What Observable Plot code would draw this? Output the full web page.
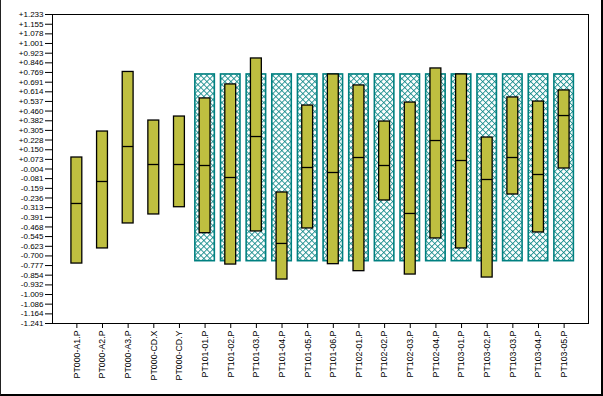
<!DOCTYPE html>
<html>
<head>
<meta charset="utf-8">
<script src="https://cdn.jsdelivr.net/npm/d3@7"></script>
<script src="https://cdn.jsdelivr.net/npm/@observablehq/plot@0.6"></script>
<style>
  html, body { margin: 0; padding: 0; background: #fff; }
  #wrap { position: relative; width: 603px; height: 396px; overflow: hidden; }
  #border { position: absolute; left: 0; top: 0; width: 603px; height: 396px; box-sizing: border-box;
            border-left: 1px solid #222; border-right: 2px solid #000; border-bottom: 2px solid #000; pointer-events: none; }
  svg { display: block; }
</style>
</head>
<body>
<div id="wrap"><div id="border"></div></div>
<script>
const categories = ["PT000-A1.P","PT000-A2.P","PT000-A3.P","PT000-CD.X","PT000-CD.Y",
  "PT101-01.P","PT101-02.P","PT101-03.P","PT101-04.P","PT101-05.P","PT101-06.P",
  "PT102-01.P","PT102-02.P","PT102-03.P","PT102-04.P",
  "PT103-01.P","PT103-02.P","PT103-03.P","PT103-04.P","PT103-05.P"];
const barHigh = [0.088, 0.296, 0.773, 0.384, 0.416,
  0.561, 0.673, 0.881, -0.192, 0.504, 0.753,
  0.665, 0.376, 0.528, 0.801,
  0.753, 0.248, 0.569, 0.536, 0.625];
const barMid = [-0.280, -0.104, 0.176, 0.032, 0.032,
  0.024, -0.072, 0.256, -0.600, 0.008, -0.032,
  0.088, 0.024, -0.360, 0.224,
  0.064, -0.088, 0.088, -0.048, 0.424];
const barLow = [-0.761, -0.640, -0.440, -0.368, -0.310,
  -0.518, -0.769, -0.504, -0.889, -0.480, -0.766,
  -0.822, -0.256, -0.849, -0.560,
  -0.640, -0.873, -0.208, -0.512, 0.000];
const limitCategories = categories.slice(5);
const limitHigh = 0.753;
const limitLow = -0.742;
const yTickLabels = ["+1.233","+1.155","+1.078","+1.001","+0.923","+0.846","+0.769","+0.691","+0.614",
  "+0.537","+0.460","+0.382","+0.305","+0.228","+0.150","+0.073","-0.004","-0.081","-0.159","-0.236",
  "-0.313","-0.391","-0.468","-0.545","-0.623","-0.700","-0.777","-0.854","-0.932","-1.009","-1.086",
  "-1.164","-1.241"];

const bars = categories.map((c, i) => ({cat: c, high: barHigh[i], mid: barMid[i], low: barLow[i]}));
const limits = limitCategories.map(c => ({cat: c, high: limitHigh, low: limitLow}));
const yTicks = yTickLabels.map(Number);

const chart = Plot.plot({
  width: 603,
  height: 396,
  marginTop: 14,
  marginLeft: 52,
  marginRight: 15,
  marginBottom: 73,
  style: {fontFamily: "'Liberation Sans', Arial, sans-serif", fontSize: "8px", color: "#000", background: "#fff"},
  x: {domain: categories, paddingInner: 0.1, paddingOuter: 0.5, round: false, label: null},
  y: {domain: [-1.241, 1.233], label: null},
  marks: [
    Plot.barY(limits, {x: "cat", y1: "low", y2: "high", fill: "url(#hatch)", stroke: "#008080", strokeWidth: 1.6, insetLeft: 1.8, insetRight: 1.8}),
    Plot.barY(bars, {x: "cat", y1: "low", y2: "high", fill: "#bfbf40", stroke: "#000", strokeWidth: 1.3, insetLeft: 6.1, insetRight: 6.1}),
    Plot.tickY(bars, {x: "cat", y: "mid", stroke: "#000", strokeWidth: 1.3, insetLeft: 6.1, insetRight: 6.1}),
    Plot.frame({stroke: "#000", strokeWidth: 1}),
    Plot.axisY({ticks: yTicks, tickFormat: (d, i) => yTickLabels[i], tickSize: 7, tickPadding: 2, label: null, fontSize: 8}),
    Plot.axisX({tickRotate: -90, tickSize: 5, tickPadding: 2, label: null, fontSize: 8.8})
  ]
});

const ns = "http://www.w3.org/2000/svg";
const defs = document.createElementNS(ns, "defs");
defs.innerHTML = `<pattern id="hatch" width="4.24" height="4.24" patternUnits="userSpaceOnUse" patternTransform="rotate(45)">
  <rect width="4.24" height="4.24" fill="#fff"/>
  <path d="M0,0.5 H4.24 M0.5,0 V4.24" stroke="#008080" stroke-width="0.8"/>
</pattern>`;
chart.insertBefore(defs, chart.firstChild);
document.getElementById("wrap").insertBefore(chart, document.getElementById("border"));
</script>
</body>
</html>
